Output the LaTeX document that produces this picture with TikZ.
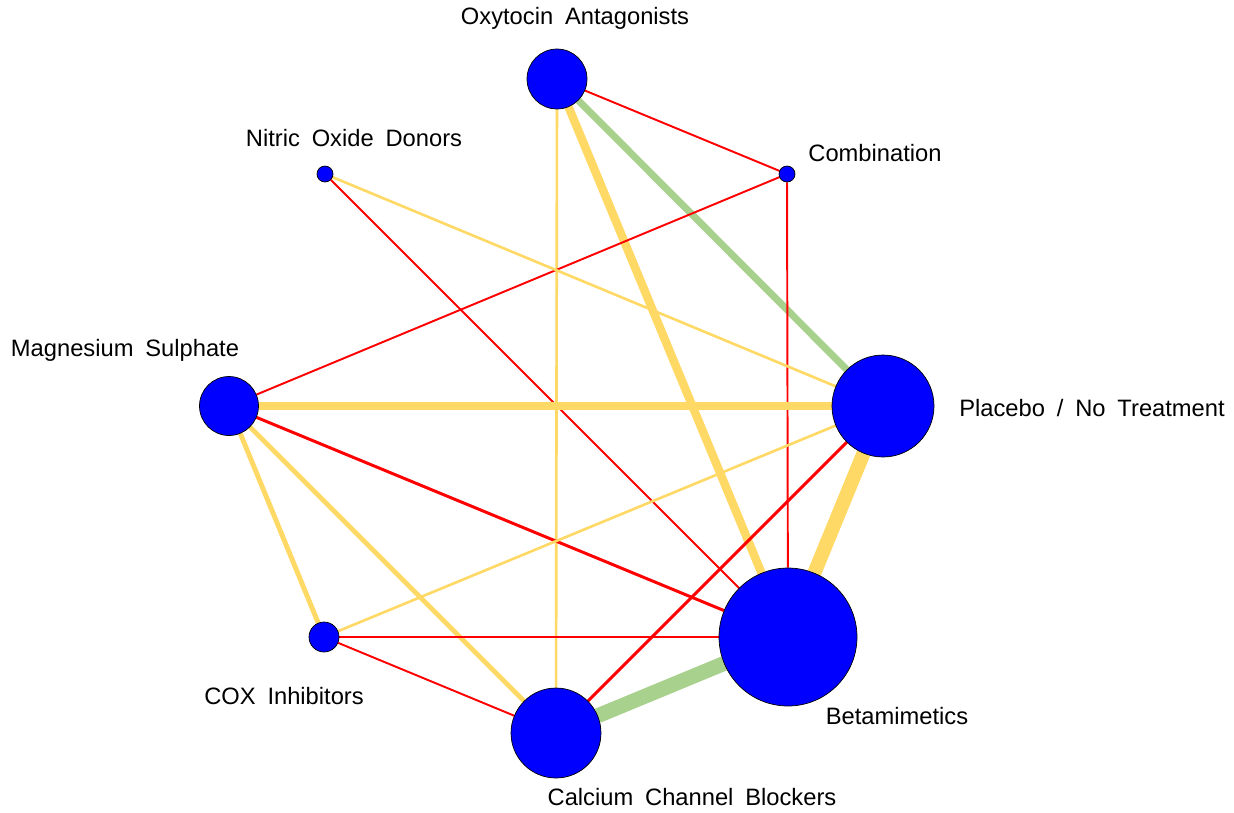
\documentclass[tikz,border=0pt]{standalone}
\usepackage{fontspec}
\setmainfont{Liberation Sans}
\usepackage{tikz}
\usetikzlibrary{backgrounds}
\definecolor{nodeblue}{HTML}{0000FF}
\definecolor{edgered}{HTML}{FF0000}
\definecolor{edgeyellow}{HTML}{FFD966}
\definecolor{edgegreen}{HTML}{A9D18E}
\newcommand{\lblfont}{\fontsize{13.5}{16}\selectfont\spaceskip=0.5em\relax}

\begin{document}
\begin{tikzpicture}[x=0.02cm, y=-0.02cm,
  trt/.style={circle, draw=black, line width=0.4pt, fill=nodeblue, inner sep=0pt},
  lbl/.style={font=\lblfont, inner sep=0pt},
  rthin/.style={edgered, line width=1.1pt},
  rmid/.style={edgered, line width=1.7pt},
  ythin/.style={edgeyellow, line width=1.5pt},
  ymid/.style={edgeyellow, line width=2.8pt},
  ythick/.style={edgeyellow, line width=4.8pt},
  yheavy/.style={edgeyellow, line width=8pt},
  gthick/.style={edgegreen, line width=4pt},
  gheavy/.style={edgegreen, line width=8.5pt}
]
\useasboundingbox (0,0) rectangle (1234,812);
% treatments
\node[trt, minimum size=1.2cm]  (oxy)  at (557,79)  {};
\node[trt, minimum size=0.32cm] (comb) at (787,174) {};
\node[trt, minimum size=0.32cm] (nod)  at (325,174) {};
\node[trt, minimum size=1.18cm] (mgs)  at (229,406) {};
\node[trt, minimum size=2.04cm] (plac) at (883,406) {};
\node[trt, minimum size=0.6cm]  (cox)  at (324,637) {};
\node[trt, minimum size=1.8cm]  (ccb)  at (556,733) {};
\node[trt, minimum size=2.76cm] (beta) at (788,637) {};
% labels
\node[lbl] (oxyL)  at (575,18)   {Oxytocin Antagonists};
\node[lbl] (nodL)  at (354,138)  {Nitric Oxide Donors};
\node[lbl] (combL) at (875,153)  {Combination};
\node[lbl] (mgsL)  at (125,350)  {Magnesium Sulphate};
\node[lbl] (placL) at (1092,408) {Placebo / No Treatment};
\node[lbl] (coxL)  at (284,696)  {COX Inhibitors};
\node[lbl] (betaL) at (897,716)  {Betamimetics};
\node[lbl] (ccbL)  at (692,797)  {Calcium Channel Blockers};
% comparisons
\begin{scope}[on background layer]
\draw[rthin]  (oxy) -- (comb);
\draw[gthick] (oxy) -- (plac);
\draw[ythick] (oxy) -- (beta);
\draw[ythin]  (oxy) -- (ccb);
\draw[rthin]  (comb) -- (mgs);
\draw[rthin]  (comb) -- (beta);
\draw[ythin]  (nod) -- (plac);
\draw[rthin]  (nod) -- (beta);
\draw[ythick] (mgs) -- (plac);
\draw[rmid]   (mgs) -- (beta);
\draw[ymid]   (mgs) -- (cox);
\draw[ymid]   (mgs) -- (ccb);
\draw[yheavy] (plac) -- (beta);
\draw[ythin]  (plac) -- (cox);
\draw[rmid]   (plac) -- (ccb);
\draw[rthin]  (cox) -- (beta);
\draw[rthin]  (cox) -- (ccb);
\draw[gheavy] (ccb) -- (beta);
\end{scope}
\end{tikzpicture}
\end{document}
